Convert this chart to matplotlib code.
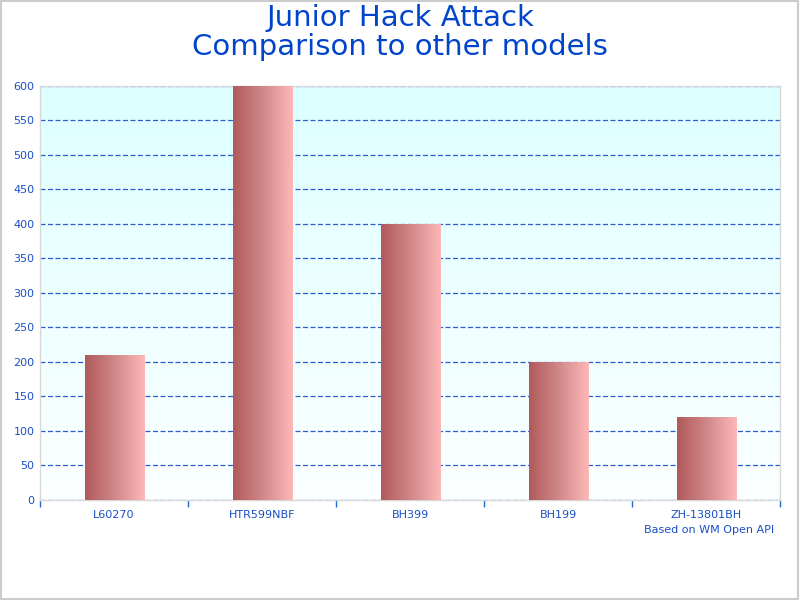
import matplotlib
matplotlib.use("Agg")
import matplotlib.pyplot as plt
import numpy as np
from matplotlib.colors import LinearSegmentedColormap
from matplotlib.patches import Rectangle

categories = ["L60270", "HTR599NBF", "BH399", "BH199", "ZH-13801BH"]
values = [209, 600, 400, 200, 120]
yticks = list(range(0, 601, 50))

blue = "#1A4FC8"
fig = plt.figure(figsize=(8, 6), dpi=100)
fig.patches.append(Rectangle((0.001, 0.001), 0.997, 0.997, transform=fig.transFigure,
                             fill=False, edgecolor="#CCCCCC", linewidth=1.5))
ax = fig.add_axes([0.05, 0.1667, 0.925, 0.69])

x = np.arange(len(categories))

# background gradient
bg = LinearSegmentedColormap.from_list("bg", ["#FCFFFF", "#DDFFFF"])
ax.imshow(np.linspace(0, 1, 256).reshape(-1, 1), cmap=bg, aspect="auto",
          extent=[0, 1, 0, 1], transform=ax.transAxes, origin="lower", zorder=0)

bars = ax.bar(x + 0.005, values, width=0.405, color="none", edgecolor="none", zorder=3)
barcm = LinearSegmentedColormap.from_list("bar", ["#B05A5A", "#D08888", "#FFB8B8"])
grad = np.linspace(0, 1, 256).reshape(1, -1)
for b in bars:
    x0, y0 = b.get_x(), b.get_y()
    ax.imshow(grad, cmap=barcm, aspect="auto",
              extent=[x0, x0 + b.get_width(), y0, y0 + b.get_height()], zorder=3)
ax.set_xlim(-0.5, len(categories) - 0.5)
ax.set_ylim(0, 600)

ax.set_yticks(yticks)
ax.yaxis.grid(True, linestyle=(0, (4, 2)), color="#2E5BD0", linewidth=0.9, zorder=1)
ax.set_axisbelow(True)
ax.tick_params(axis="y", length=0, labelsize=8, labelcolor=blue, pad=4)

ax.set_xticks(x)
ax.set_xticklabels(categories, fontsize=8, color=blue)
ax.set_xticks(np.arange(-0.5, len(categories)), minor=True)
ax.tick_params(axis="x", which="major", length=0, pad=7)
ax.tick_params(axis="x", which="minor", length=5, color="#1A6FD0", width=1, direction="out")

for s in ax.spines.values():
    s.set_color("#D8D8D8")
    s.set_linewidth(1)

fig.text(0.5, 0.946, "Junior Hack Attack\nComparison to other models", ha="center", va="center",
         fontsize=21, color="#0044CC", linespacing=1.05)
fig.text(0.968, 0.116, "Based on WM Open API", ha="right", va="center", fontsize=8, color=blue)

fig.savefig("out.png", dpi=100)
